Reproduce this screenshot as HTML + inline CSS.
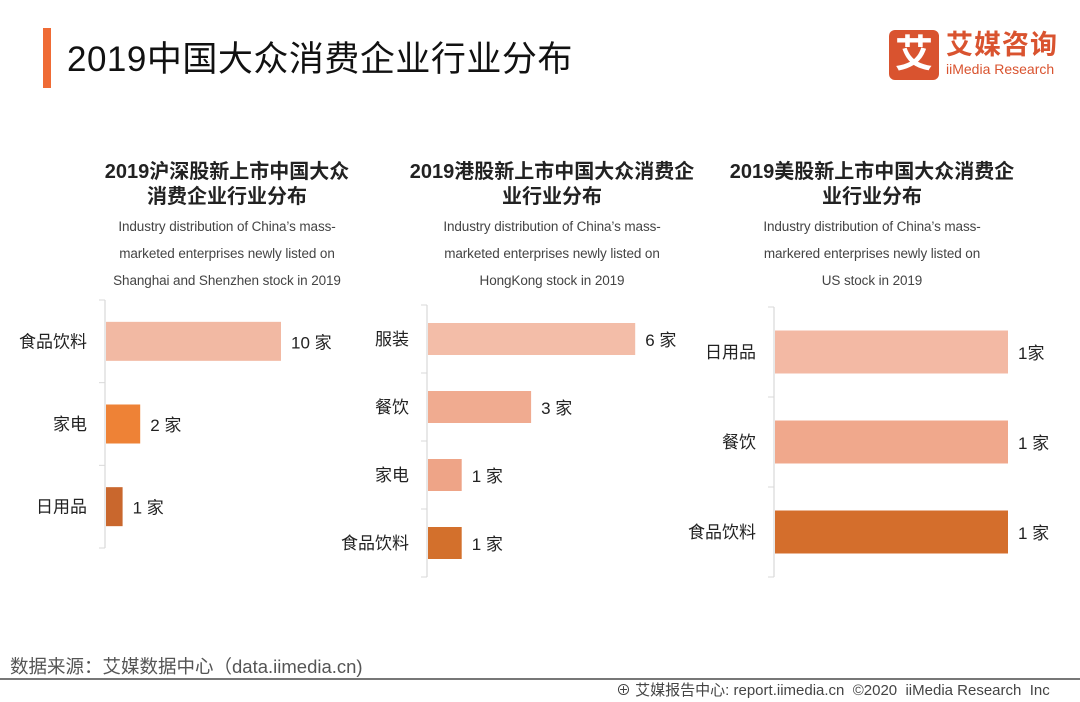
<!DOCTYPE html>
<html><head><meta charset="utf-8"><style>
body{margin:0;width:1080px;height:702px;background:#fff;overflow:hidden;position:relative;font-family:"Liberation Sans","Noto Sans CJK SC",sans-serif;color:#222}
.abs{position:absolute}
.st{position:absolute;text-align:center;font-weight:bold;font-size:20px;line-height:25px;color:#222;width:340px}
.en{position:absolute;text-align:center;font-size:13.5px;line-height:27px;color:#444;width:340px;letter-spacing:-0.1px}
</style></head><body>
<div class="abs" style="left:43px;top:28px;width:8px;height:60px;background:#ef6b35"></div>
<div class="abs" style="left:67px;top:31px;font-size:35px;color:#111;letter-spacing:0.5px">2019中国大众消费企业行业分布</div>
<div class="abs" style="left:889px;top:30px;width:175px;height:52px">
 <div class="abs" style="left:0;top:0;width:50px;height:50px;background:#d9532f;border-radius:6px;color:#fff;font-size:38px;font-weight:bold;text-align:center;line-height:50px">艾</div>
 <div class="abs" style="left:57px;top:0;font-size:27px;font-weight:bold;color:#d9532f;line-height:30px;letter-spacing:1px">艾媒咨询</div>
 <div class="abs" style="left:57px;top:31px;font-size:14px;color:#d9532f;line-height:16px">iiMedia Research</div>
</div>

<div class="st" style="left:57px;top:160px">2019沪深股新上市中国大众<br>消费企业行业分布</div>
<div class="en" style="left:57px;top:213px">Industry distribution of China’s mass-<br>marketed enterprises newly listed on<br>Shanghai and Shenzhen stock in 2019</div>
<div class="st" style="left:382px;top:160px">2019港股新上市中国大众消费企<br>业行业分布</div>
<div class="en" style="left:382px;top:213px">Industry distribution of China’s mass-<br>marketed enterprises newly listed on<br>HongKong stock in 2019</div>
<div class="st" style="left:702px;top:160px">2019美股新上市中国大众消费企<br>业行业分布</div>
<div class="en" style="left:702px;top:213px">Industry distribution of China’s mass-<br>markered enterprises newly listed on<br>US stock in 2019</div>

<svg id="chart" class="abs" style="left:0;top:0" width="1080" height="702"></svg>

<div class="abs" style="left:10px;top:653px;font-size:18.5px;color:#555">数据来源：艾媒数据中心（data.iimedia.cn)</div>
<div class="abs" style="left:0;top:678px;width:1080px;height:2px;background:#777"></div>
<div class="abs" style="left:616px;top:679px;font-size:15px;color:#444">⊕ 艾媒报告中心: report.iimedia.cn &nbsp;©2020 &nbsp;iiMedia Research &nbsp;Inc</div>

<script>
const cats1=["食品饮料","家电","日用品"];
const vals1=[10,2,1];
const cats2=["服装","餐饮","家电","食品饮料"];
const vals2=[6,3,1,1];
const cats3=["日用品","餐饮","食品饮料"];
const vals3=[1,1,1];
const labSp1=[" 家"," 家"," 家"];
const labSp3=["家"," 家"," 家"];

const svg=document.getElementById('chart');
const NS='http://www.w3.org/2000/svg';
function mk(t,a){const e=document.createElementNS(NS,t);for(const k in a)e.setAttribute(k,a[k]);svg.appendChild(e);return e;}
function draw(id,cats,vals,cfg){
  const n=cats.length, band=(cfg.bottom-cfg.top)/n;
  const x=v=>cfg.x0+v*cfg.unit;
  const ax=mk('line',{x1:cfg.x0,x2:cfg.x0,y1:cfg.top,y2:cfg.bottom,stroke:'#d9d9d9','stroke-width':1.2});
  
  
  for(let i=0;i<=n;i++){
    const t=mk('line',{x1:cfg.x0-6,x2:cfg.x0,y1:cfg.top+i*band,y2:cfg.top+i*band,stroke:'#d9d9d9','stroke-width':1});
    
    
  }
  cats.forEach((c,i)=>{
    const cy=cfg.top+band*(i+0.5);
    const r=mk('rect',{x:cfg.x0+1,y:cy-cfg.bh/2,width:x(vals[i])-cfg.x0-1,height:cfg.bh,fill:cfg.colors[i]});
    
    
    const l=mk('text',{x:cfg.x0-18,y:cy+6,'text-anchor':'end','font-size':17,fill:'#222'});
    l.textContent=c;
    
    
    const v=mk('text',{x:x(vals[i])+10,y:cy+7,'font-size':17,fill:'#222'});
    v.textContent=vals[i]+(cfg.sp?cfg.sp[i]:' 家');
    
    
  });
}
draw('chart1',cats1,vals1,{x0:105,top:300,bottom:548,unit:17.6,bh:39,colors:['#f2b9a3','#ee8236','#c9672d'],sp:labSp1});
draw('chart2',cats2,vals2,{x0:427,top:305,bottom:577,unit:34.7,bh:32,colors:['#f3bda8','#f0ab90','#eea487','#d3702c']});
draw('chart3',cats3,vals3,{x0:774,top:307,bottom:577,unit:234,bh:43,colors:['#f3b9a4','#f0a88c','#d46e2c'],sp:labSp3});
</script>
</body></html>
